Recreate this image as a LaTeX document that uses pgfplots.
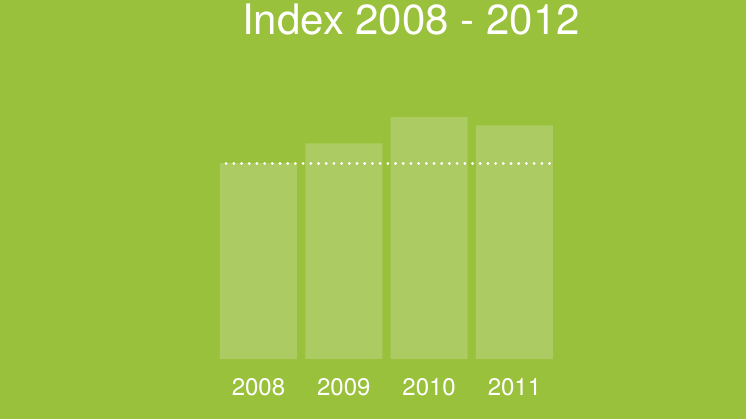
\documentclass[border=0pt]{standalone}
\usepackage{pgfplots}
\pgfplotsset{compat=1.18}
\usepackage{fontspec}
\setmainfont{TeX Gyre Heros}
\definecolor{bggreen}{RGB}{154,193,60}
\definecolor{bargreen}{RGB}{172,203,98}

\begin{document}
\begin{tikzpicture}
\begin{axis}[
    scale only axis,
    width=746pt, height=419pt,
    xmin=-3.029, xmax=5.713,
    ymin=-30.66, ymax=183.4,
    axis background/.style={fill=bggreen},
    axis line style={draw=none},
    major tick length=0pt,
    ytick=\empty,
    xtick=data,
    xticklabels={2008,2009,2010,2011},
    xticklabel style={font=\fontsize{24}{24}\selectfont, text=white, anchor=base, yshift=23pt},
    clip=false,
]
\addplot[ybar, bar width=77pt, fill=bargreen, draw=none, bar shift=0pt]
    coordinates {(0,100) (1,110.2) (2,123.5) (3,119.4)};
\addplot[white, line width=2.7pt, line cap=round, dash pattern=on 0.3pt off 7.4pt]
    coordinates {(-0.381,100) (3.463,100)};
\node[text=white, anchor=base, font=\fontsize{42}{42}\selectfont]
    at (rel axis cs:0.551,0.917) {Index 2008 - 2012};
\end{axis}
\pgfresetboundingbox
\path[use as bounding box] (0,0) rectangle (746pt,419pt);
\end{tikzpicture}
\end{document}
